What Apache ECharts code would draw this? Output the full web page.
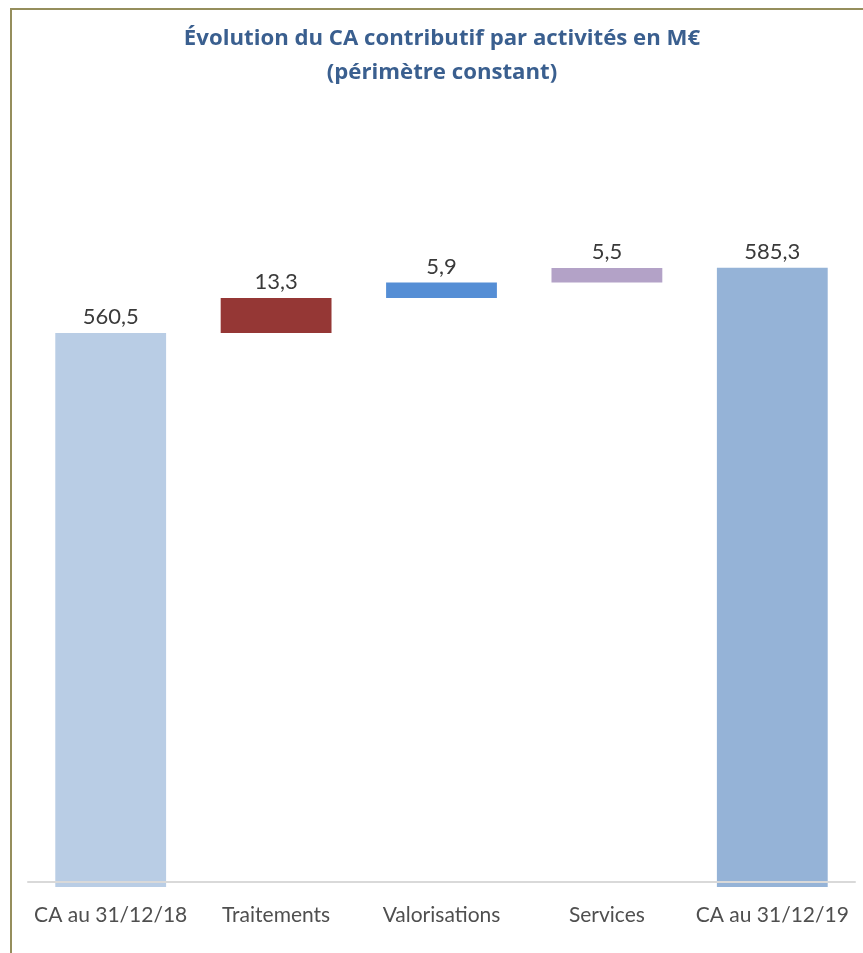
<!DOCTYPE html>
<html>
<head>
<meta charset="utf-8">
<script src="https://cdn.jsdelivr.net/npm/echarts@6/dist/echarts.min.js"></script>
<style>
  html, body { margin: 0; padding: 0; background: #ffffff; overflow: hidden; }
  #frame { position: absolute; left: 10px; top: 8px; width: 2000px; height: 2000px;
           border-left: 2px solid #958e5c; border-top: 2px solid #958e5c; }
  #chart { position: absolute; left: 0; top: 0; width: 863px; height: 953px; }
</style>
</head>
<body>
<div id="frame"></div>
<div id="chart"></div>
<script>
// ---- data ----
const titleLines = ['Évolution du CA contributif par activités en M€', '(périmètre constant)'];
const categories = ['CA au 31/12/18', 'Traitements', 'Valorisations', 'Services', 'CA au 31/12/19'];
const values = [560.5, 13.3, 5.9, 5.5, 585.3];
const isTotal = [true, false, false, false, true];
const barColors = ['#b9cde5', '#953735', '#558ed5', '#b3a2c7', '#95b3d7'];

// invisible base for the floating (waterfall) bars
const bases = [];
let running = 0;
values.forEach((v, i) => {
  if (isTotal[i]) { bases.push(0); running = v; }
  else { bases.push(running); running += v; }
});

const chart = echarts.init(document.getElementById('chart'));
chart.setOption({
  animation: false,
  backgroundColor: 'transparent',
  title: {
    text: titleLines.join('\n'),
    left: 442,
    textAlign: 'center',
    top: 22,
    padding: 0,
    textStyle: {
      fontFamily: 'Open Sans',
      fontSize: 22.2,
      fontWeight: 'bold',
      color: '#3a5f8f',
      lineHeight: 34
    }
  },
  grid: { left: 28, right: 8, top: 229, bottom: 66, containLabel: false },
  xAxis: {
    type: 'category',
    data: categories,
    offset: -5,
    z: 5,
    axisLine: { show: true, onZero: false, lineStyle: { color: '#d9d9d9', width: 2 } },
    axisTick: { show: false },
    axisLabel: {
      margin: 23,
      fontFamily: 'Lato',
      fontSize: 21,
      color: '#4f4f4f',
      interval: 0
    }
  },
  yAxis: {
    type: 'value',
    min: 350,
    max: 600,
    show: false,
    splitLine: { show: false }
  },
  series: [
    {
      type: 'bar',
      stack: 'wf',
      data: bases,
      barWidth: '67%',
      itemStyle: { color: 'transparent' },
      emphasis: { disabled: true },
      silent: true
    },
    {
      type: 'bar',
      stack: 'wf',
      data: values.map((v, i) => ({ value: v, itemStyle: { color: barColors[i] } })),
      barWidth: '67%',
      label: {
        show: true,
        position: 'top',
        distance: 5,
        fontFamily: 'Lato',
        fontSize: 22,
        color: '#3a3a3a',
        formatter: p => p.value.toFixed(1).replace('.', ',')
      }
    }
  ]
});
</script>
</body>
</html>
